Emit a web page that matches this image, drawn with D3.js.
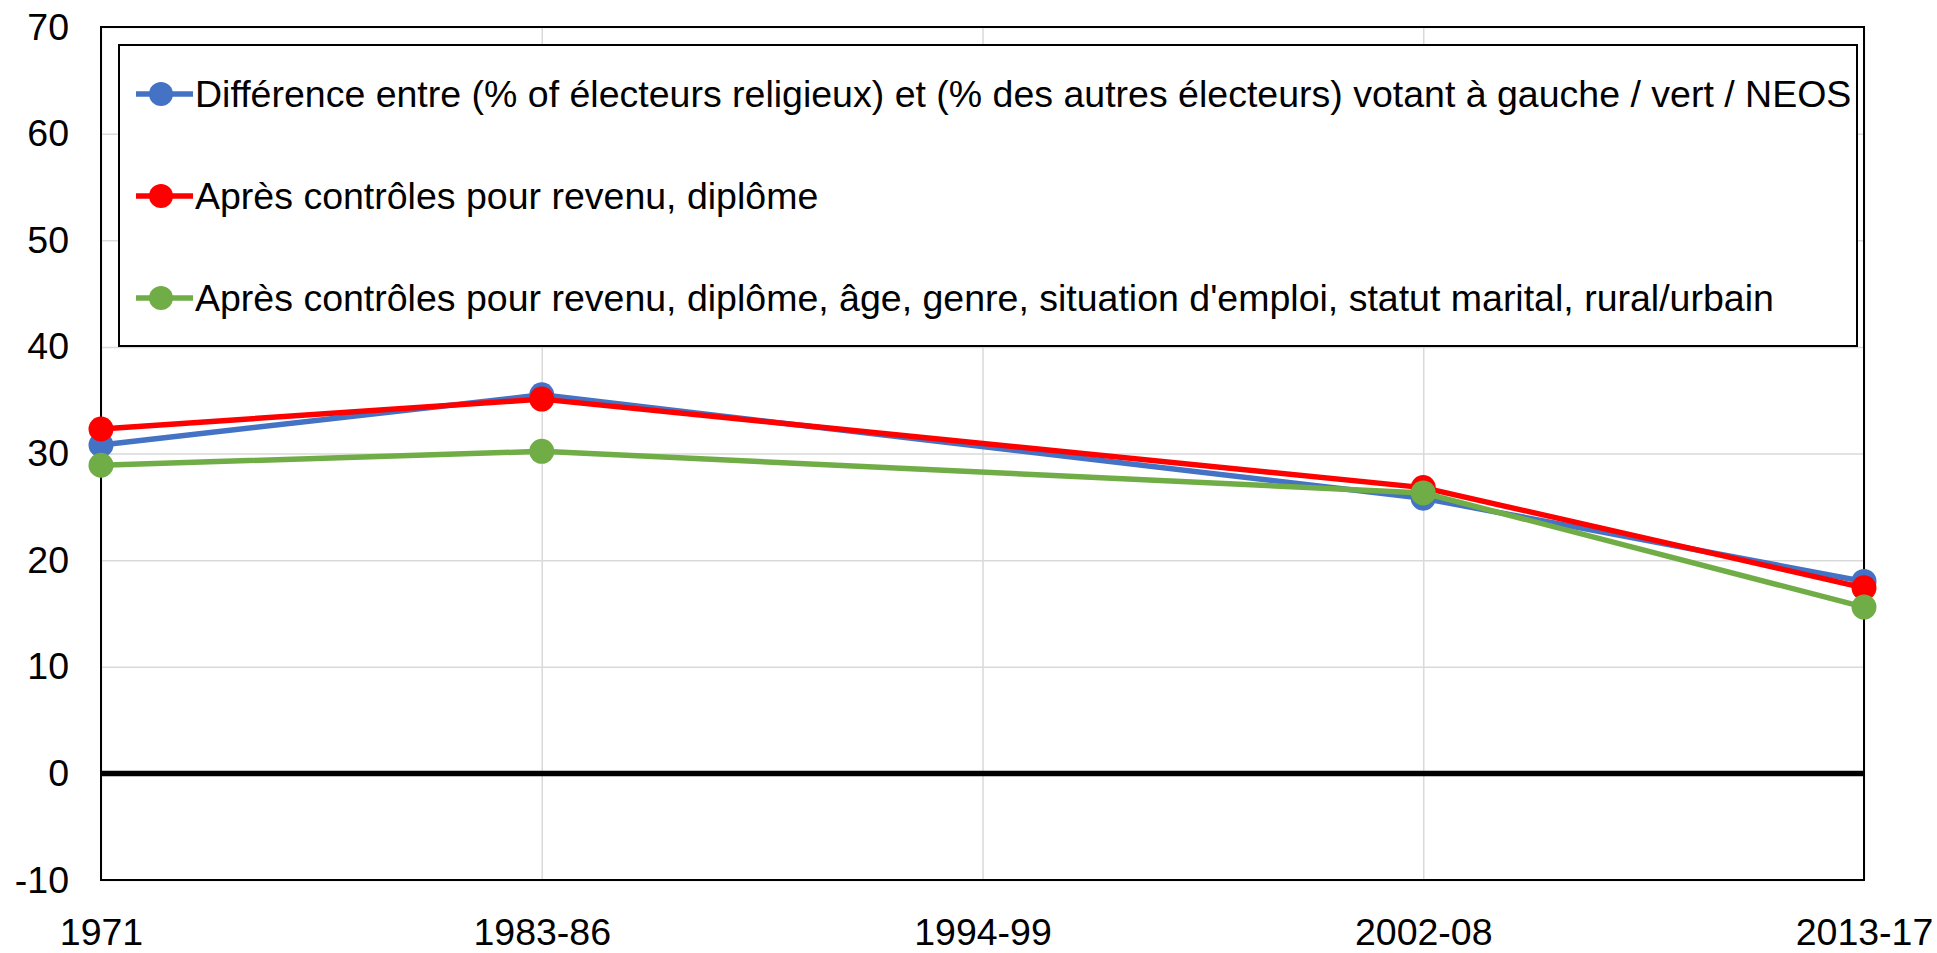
<!DOCTYPE html>
<html>
<head>
<meta charset="utf-8">
<script src="https://cdn.jsdelivr.net/npm/d3@7"></script>
<style>
  body { margin: 0; background: #fff; }
  svg { display: block; font-family: 'Liberation Sans', Arial, sans-serif; }
</style>
</head>
<body>
<div id="graph"></div>
<script>
// Data

let periods = ['1971', '1983-86', '1994-99', '2002-08', '2013-17'];
let yTicks = [-10, 0, 10, 20, 30, 40, 50, 60, 70];

let labels = [
  'Différence entre (% of électeurs religieux) et (% des autres électeurs) votant à gauche / vert / NEOS',
  'Après contrôles pour revenu, diplôme',
  "Après contrôles pour revenu, diplôme, âge, genre, situation d'emploi, statut marital, rural/urbain",
];

let raw = [30.8, 35.5, null, 25.8, 18.0];
let controlled = [32.3, 35.1, null, 26.8, 17.4];
let fullControls = [28.9, 30.2, null, 26.3, 15.6];

let colors = ['#4472c4', '#ff0000', '#70ad47'];

// D3 Code
let width = 1937;
let height = 953;
let plotLeft = 101;
let plotRight = 1864;
let plotTop = 27;
let plotBottom = 880;
let fontSize = 37.5;

let x = d3.scalePoint().domain(periods).range([plotLeft, plotRight]);
let y = d3.scaleLinear().domain([-10, 70]).range([plotBottom, plotTop]);

let svg = d3.select('#graph').append('svg').attr('width', width).attr('height', height);

// grid
svg
  .append('g')
  .call(d3.axisLeft(y).tickValues(yTicks).tickSize(-(plotRight - plotLeft)).tickFormat(''))
  .attr('transform', 'translate(' + plotLeft + ',0)')
  .call((g) => g.select('.domain').remove())
  .selectAll('line')
  .attr('stroke', '#d9d9d9')
  .attr('stroke-width', 1.5);

svg
  .append('g')
  .call(d3.axisBottom(x).tickSize(-(plotBottom - plotTop)).tickFormat(''))
  .attr('transform', 'translate(0,' + plotBottom + ')')
  .call((g) => g.select('.domain').remove())
  .selectAll('line')
  .attr('stroke', '#d9d9d9')
  .attr('stroke-width', 1.5);

// tick labels
let yAxis = svg
  .append('g')
  .attr('transform', 'translate(' + plotLeft + ',0)')
  .call(
    d3
      .axisLeft(y)
      .tickValues(yTicks)
      .tickSize(0)
      .tickPadding(32)
      .tickFormat((d) => String(d))
  );
yAxis.select('.domain').remove();
yAxis.selectAll('text').attr('font-size', fontSize).attr('font-family', null).attr('fill', '#000');

let xAxis = svg
  .append('g')
  .attr('transform', 'translate(0,' + plotBottom + ')')
  .call(d3.axisBottom(x).tickSize(0).tickPadding(38));
xAxis.select('.domain').remove();
xAxis.selectAll('text').attr('font-size', fontSize).attr('font-family', null).attr('fill', '#000');

// plot border
svg
  .append('rect')
  .attr('x', plotLeft)
  .attr('y', plotTop)
  .attr('width', plotRight - plotLeft)
  .attr('height', plotBottom - plotTop)
  .attr('fill', 'none')
  .attr('stroke', '#000')
  .attr('stroke-width', 2);

// zero line
svg
  .append('line')
  .attr('x1', plotLeft)
  .attr('x2', plotRight)
  .attr('y1', y(0))
  .attr('y2', y(0))
  .attr('stroke', '#000')
  .attr('stroke-width', 5.5);

// series
let series = [raw, controlled, fullControls];

let line = d3
  .line()
  .x((d) => x(d.p))
  .y((d) => y(d.v));

function drawSeries(values, i) {
  let pts = periods.map((p, j) => ({ p: p, v: values[j] })).filter((d) => d.v !== null);

  svg
    .append('path')
    .datum(pts)
    .attr('d', line)
    .attr('fill', 'none')
    .attr('stroke', colors[i])
    .attr('stroke-width', 5.5)
    .attr('stroke-linejoin', 'round');

  svg
    .selectAll('circle.s' + i)
    .data(pts)
    .enter()
    .append('circle')
    .attr('class', 's' + i)
    .attr('cx', (d) => x(d.p))
    .attr('cy', (d) => y(d.v))
    .attr('r', 12.5)
    .style('fill', colors[i]);
}

series.forEach(drawSeries);

// legend
let legend = svg.append('g');

legend
  .append('rect')
  .attr('x', 119)
  .attr('y', 45)
  .attr('width', 1738)
  .attr('height', 301)
  .attr('fill', '#fff')
  .attr('stroke', '#000')
  .attr('stroke-width', 2);

labels.forEach(function (label, i) {
  let ly = 94 + i * 102;

  legend
    .append('line')
    .attr('x1', 136)
    .attr('x2', 193)
    .attr('y1', ly)
    .attr('y2', ly)
    .attr('stroke', colors[i])
    .attr('stroke-width', 5.5);

  legend.append('circle').attr('cx', 161).attr('cy', ly).attr('r', 12).style('fill', colors[i]);

  legend
    .append('text')
    .attr('x', 195)
    .attr('y', ly)
    .attr('dy', '0.35em')
    .attr('font-size', fontSize)
    .text(label);
});
</script>
</body>
</html>
